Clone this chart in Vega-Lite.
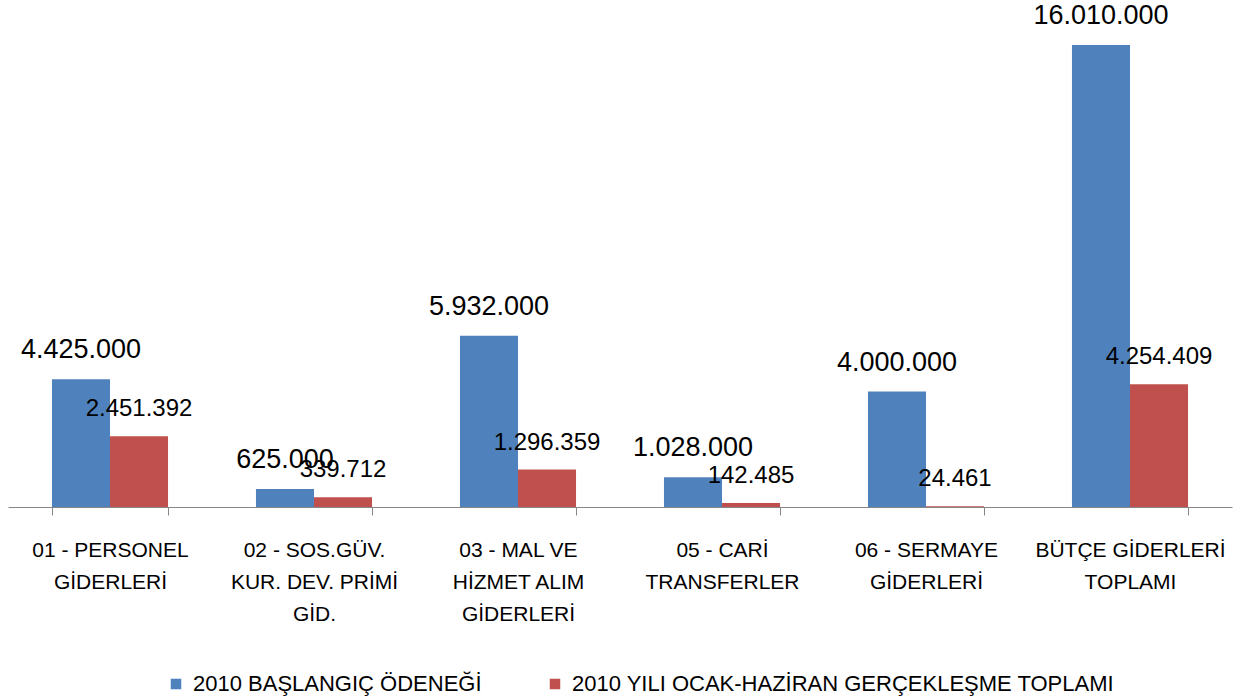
{
  "$schema": "https://vega.github.io/schema/vega-lite/v6.json",
  "width": 1224,
  "height": 507,
  "autosize": {"type": "none"},
  "padding": {"left": 8, "top": 0, "right": 6, "bottom": 193},
  "config": {
    "view": {"stroke": null},
    "font": "Liberation Sans",
    "locale": {"number": {"decimal": ",", "thousands": ".", "grouping": [3], "currency": ["", ""]}}
  },
  "data": {
    "values": [
      {"cat": "01 - PERSONEL\nGİDERLERİ", "series": "2010 BAŞLANGIÇ ÖDENEĞİ", "value": 4425000},
      {"cat": "01 - PERSONEL\nGİDERLERİ", "series": "2010 YILI OCAK-HAZİRAN GERÇEKLEŞME TOPLAMI", "value": 2451392},
      {"cat": "02 - SOS.GÜV.\nKUR. DEV. PRİMİ\nGİD.", "series": "2010 BAŞLANGIÇ ÖDENEĞİ", "value": 625000},
      {"cat": "02 - SOS.GÜV.\nKUR. DEV. PRİMİ\nGİD.", "series": "2010 YILI OCAK-HAZİRAN GERÇEKLEŞME TOPLAMI", "value": 339712},
      {"cat": "03 - MAL VE\nHİZMET ALIM\nGİDERLERİ", "series": "2010 BAŞLANGIÇ ÖDENEĞİ", "value": 5932000},
      {"cat": "03 - MAL VE\nHİZMET ALIM\nGİDERLERİ", "series": "2010 YILI OCAK-HAZİRAN GERÇEKLEŞME TOPLAMI", "value": 1296359},
      {"cat": "05 - CARİ\nTRANSFERLER", "series": "2010 BAŞLANGIÇ ÖDENEĞİ", "value": 1028000},
      {"cat": "05 - CARİ\nTRANSFERLER", "series": "2010 YILI OCAK-HAZİRAN GERÇEKLEŞME TOPLAMI", "value": 142485},
      {"cat": "06 - SERMAYE\nGİDERLERİ", "series": "2010 BAŞLANGIÇ ÖDENEĞİ", "value": 4000000},
      {"cat": "06 - SERMAYE\nGİDERLERİ", "series": "2010 YILI OCAK-HAZİRAN GERÇEKLEŞME TOPLAMI", "value": 24461},
      {"cat": "BÜTÇE GİDERLERİ\nTOPLAMI", "series": "2010 BAŞLANGIÇ ÖDENEĞİ", "value": 16010000},
      {"cat": "BÜTÇE GİDERLERİ\nTOPLAMI", "series": "2010 YILI OCAK-HAZİRAN GERÇEKLEŞME TOPLAMI", "value": 4254409}
    ]
  },
  "encoding": {
    "x": {
      "field": "cat",
      "type": "nominal",
      "sort": null,
      "scale": {"paddingInner": 0.431, "paddingOuter": 0.2155},
      "axis": {
        "title": null,
        "labelAngle": 0,
        "labelExpr": "split(datum.label, '\\n')",
        "labelFontSize": 21,
        "labelLineHeight": 32,
        "labelColor": "#000000",
        "labelLimit": 0,
        "labelPadding": 24,
        "domainColor": "#868686",
        "tickColor": "#868686",
        "tickSize": 8,
        "tickBand": "extent"
      }
    },
    "xOffset": {"field": "series", "type": "nominal", "sort": ["2010 BAŞLANGIÇ ÖDENEĞİ", "2010 YILI OCAK-HAZİRAN GERÇEKLEŞME TOPLAMI"]},
    "y": {"field": "value", "type": "quantitative", "scale": {"domain": [0, 17570000]}, "axis": null}
  },
  "layer": [
    {
      "mark": {"type": "bar"},
      "encoding": {
        "color": {
          "field": "series",
          "type": "nominal",
          "scale": {"domain": ["2010 BAŞLANGIÇ ÖDENEĞİ", "2010 YILI OCAK-HAZİRAN GERÇEKLEŞME TOPLAMI"], "range": ["#4F81BD", "#C0504D"]},
          "legend": {
            "orient": "none",
            "legendX": 157,
            "legendY": 673,
            "direction": "horizontal",
            "title": null,
            "symbolType": "square",
            "symbolSize": 110,
            "symbolStrokeWidth": 0,
            "labelFontSize": 22,
            "labelColor": "#000000",
            "labelOffset": 6,
            "labelLimit": 0,
            "columnPadding": 62
          }
        }
      }
    },
    {
      "transform": [{"filter": "datum.series === '2010 BAŞLANGIÇ ÖDENEĞİ'"}],
      "mark": {"type": "text", "fontSize": 27, "dy": -29, "baseline": "middle", "color": "#000000"},
      "encoding": {"text": {"field": "value", "type": "quantitative", "format": ",d"}}
    },
    {
      "transform": [{"filter": "datum.series !== '2010 BAŞLANGIÇ ÖDENEĞİ'"}],
      "mark": {"type": "text", "fontSize": 24, "dy": -27, "baseline": "middle", "color": "#000000"},
      "encoding": {"text": {"field": "value", "type": "quantitative", "format": ",d"}}
    }
  ]
}
